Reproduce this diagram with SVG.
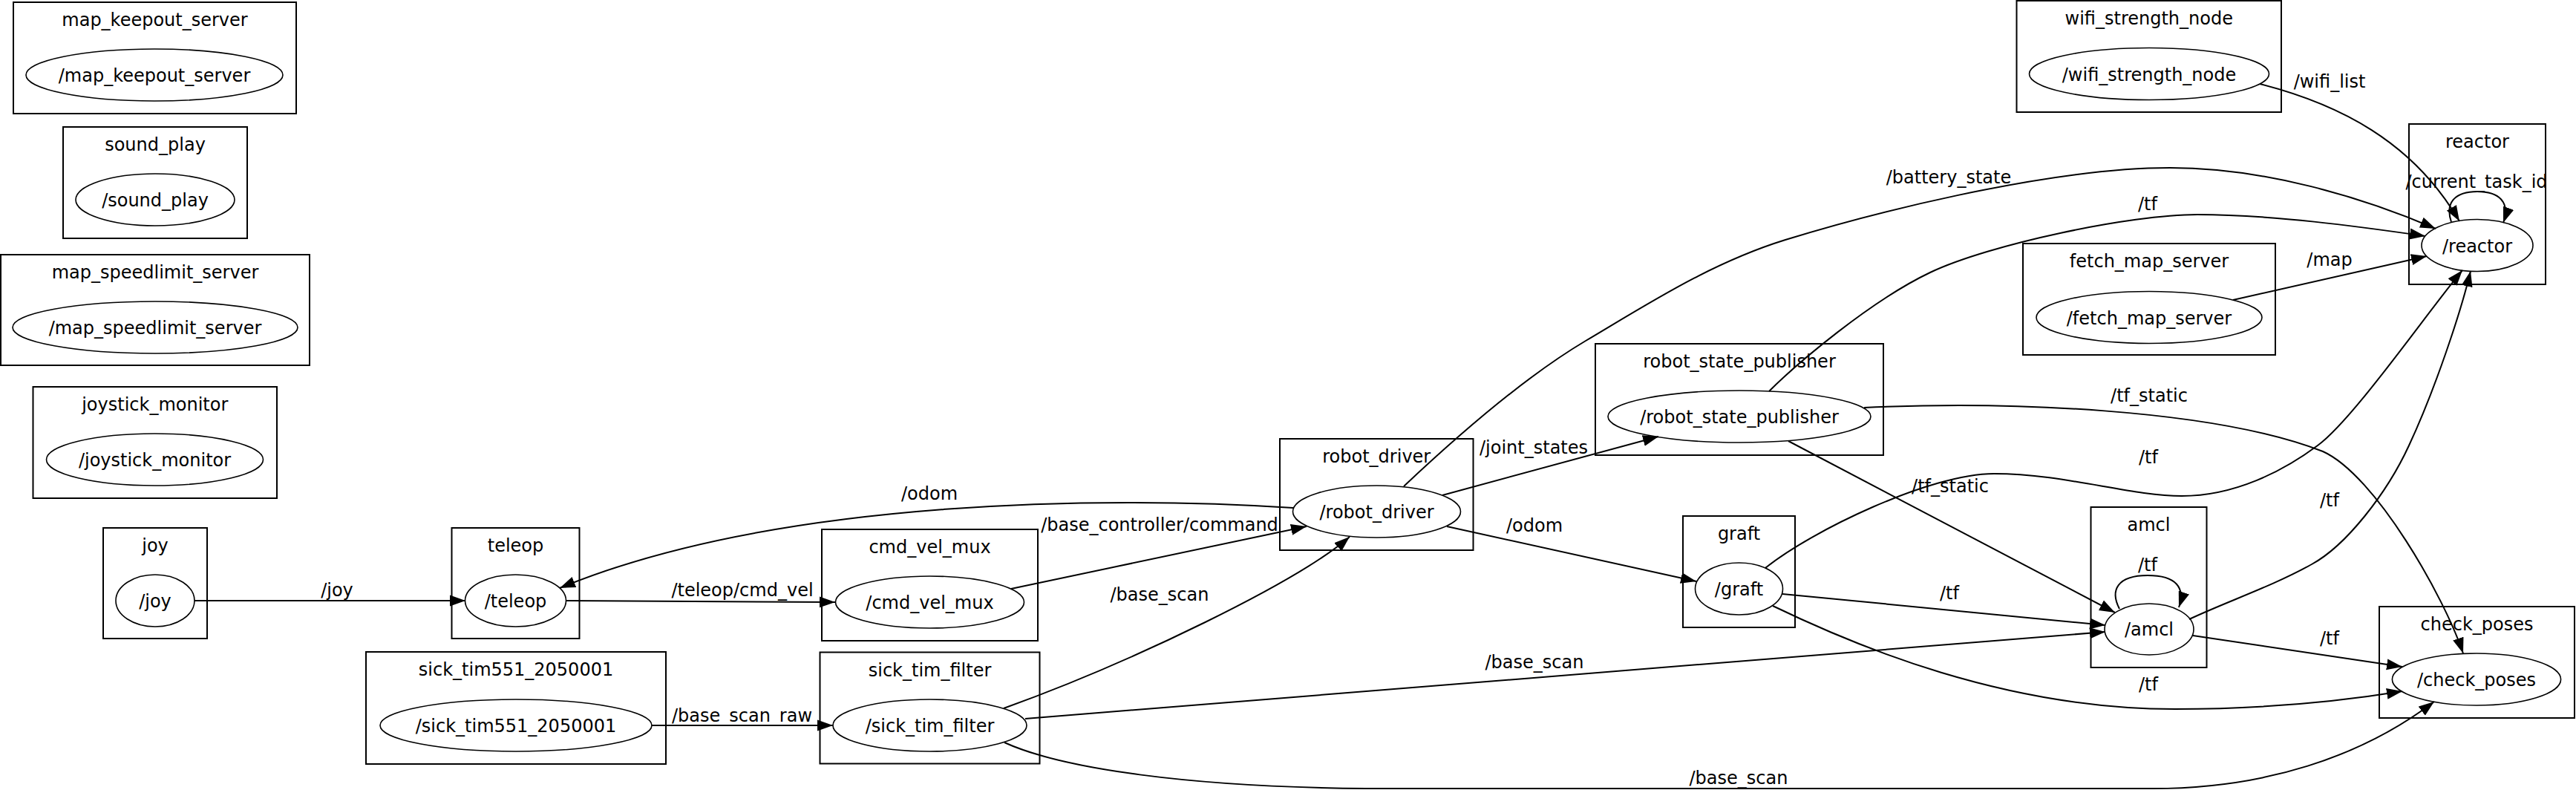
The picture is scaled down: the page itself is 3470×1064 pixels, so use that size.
<svg xmlns="http://www.w3.org/2000/svg" width="3470" height="1064" viewBox="0 0 3470 1064">
<style>
.box{fill:none;stroke:#000;stroke-width:2}
.node{fill:none;stroke:#000;stroke-width:1.6}
text{font-family:"DejaVu Sans",sans-serif;font-size:24px;fill:#000;text-anchor:middle}
.edge{fill:none;stroke:#000;stroke-width:2;marker-end:url(#ah)}
</style>
<defs>
<marker id="ah" markerWidth="22" markerHeight="16" refX="21" refY="8" orient="auto" markerUnits="userSpaceOnUse">
<path d="M0,0.5 L21,8 L0,15.5 z" fill="#000"/>
</marker>
</defs>
<rect width="3470" height="1064" fill="#fff"/>

<g id="n_map_keepout_server"><rect class="box" x="18" y="3" width="381" height="150"/><text x="208.5" y="35">map_keepout_server</text><ellipse class="node" cx="208" cy="101" rx="173" ry="35"/><text x="208" y="110">/map_keepout_server</text></g>
<g id="n_sound_play"><rect class="box" x="85" y="171" width="248" height="150"/><text x="209" y="203">sound_play</text><ellipse class="node" cx="209" cy="269" rx="107" ry="35"/><text x="209" y="278">/sound_play</text></g>
<g id="n_map_speedlimit_server"><rect class="box" x="1" y="343" width="416" height="149"/><text x="209" y="375">map_speedlimit_server</text><ellipse class="node" cx="209" cy="441" rx="192" ry="35"/><text x="209" y="450">/map_speedlimit_server</text></g>
<g id="n_joystick_monitor"><rect class="box" x="44.5" y="521" width="328.5" height="150"/><text x="208.75" y="553">joystick_monitor</text><ellipse class="node" cx="208.5" cy="619" rx="146" ry="35"/><text x="208.5" y="628">/joystick_monitor</text></g>
<g id="n_joy"><rect class="box" x="139" y="711" width="140" height="149"/><text x="209" y="743">joy</text><ellipse class="node" cx="209" cy="809" rx="53" ry="35"/><text x="209" y="818">/joy</text></g>
<g id="n_teleop"><rect class="box" x="608.5" y="711" width="172" height="149"/><text x="694.5" y="743">teleop</text><ellipse class="node" cx="694.5" cy="809" rx="68" ry="35"/><text x="694.5" y="818">/teleop</text></g>
<g id="n_sick_tim551_2050001"><rect class="box" x="493" y="878" width="404" height="151"/><text x="695" y="910">sick_tim551_2050001</text><ellipse class="node" cx="695" cy="977" rx="183" ry="35"/><text x="695" y="986">/sick_tim551_2050001</text></g>
<g id="n_cmd_vel_mux"><rect class="box" x="1107" y="713" width="291" height="150"/><text x="1252.5" y="745">cmd_vel_mux</text><ellipse class="node" cx="1252.5" cy="811" rx="127" ry="35"/><text x="1252.5" y="820">/cmd_vel_mux</text></g>
<g id="n_sick_tim_filter"><rect class="box" x="1104.5" y="878.5" width="296" height="150"/><text x="1252.5" y="910.5">sick_tim_filter</text><ellipse class="node" cx="1252.5" cy="977" rx="130.5" ry="35"/><text x="1252.5" y="986">/sick_tim_filter</text></g>
<g id="n_robot_driver"><rect class="box" x="1724" y="591" width="260.5" height="150"/><text x="1854.25" y="623">robot_driver</text><ellipse class="node" cx="1854.5" cy="689" rx="113" ry="35"/><text x="1854.5" y="698">/robot_driver</text></g>
<g id="n_robot_state_publisher"><rect class="box" x="2149" y="463" width="388" height="150"/><text x="2343" y="495">robot_state_publisher</text><ellipse class="node" cx="2343" cy="561" rx="177" ry="35"/><text x="2343" y="570">/robot_state_publisher</text></g>
<g id="n_graft"><rect class="box" x="2267" y="695" width="151" height="150"/><text x="2342.5" y="727">graft</text><ellipse class="node" cx="2342.5" cy="793" rx="59" ry="35"/><text x="2342.5" y="802">/graft</text></g>
<g id="n_amcl"><rect class="box" x="2816.5" y="683" width="156" height="216"/><text x="2894.5" y="715">amcl</text><ellipse class="node" cx="2895" cy="847.5" rx="60" ry="34.5"/><text x="2895" y="856">/amcl</text></g>
<g id="n_check_poses"><rect class="box" x="3205" y="817" width="263" height="150"/><text x="3336.5" y="849">check_poses</text><ellipse class="node" cx="3336" cy="915" rx="113.6" ry="35"/><text x="3336" y="924">/check_poses</text></g>
<g id="n_wifi_strength_node"><rect class="box" x="2716.5" y="1" width="356.5" height="150"/><text x="2894.75" y="33">wifi_strength_node</text><ellipse class="node" cx="2895" cy="99.5" rx="161.5" ry="35"/><text x="2895" y="108.5">/wifi_strength_node</text></g>
<g id="n_reactor"><rect class="box" x="3245" y="167" width="184" height="216"/><text x="3337" y="199">reactor</text><ellipse class="node" cx="3337" cy="330.5" rx="75" ry="35"/><text x="3337" y="339.5">/reactor</text></g>
<g id="n_fetch_map_server"><rect class="box" x="2725" y="328" width="340" height="150"/><text x="2895" y="360">fetch_map_server</text><ellipse class="node" cx="2895" cy="427.5" rx="152" ry="35"/><text x="2895" y="436.5">/fetch_map_server</text></g>

<g id="edges">
<path class="edge" d="M262,809 L627,809"/><text x="454" y="803">/joy</text>
<path class="edge" d="M1742,684 C1500,668 1050,670 754,792"/><text x="1252" y="673">/odom</text>
<path class="edge" d="M763,809 L1125,811"/><text x="1000" y="803">/teleop/cmd_vel</text>
<path class="edge" d="M1362,793 L1760,709"/><text x="1562" y="715">/base_controller/command</text>
<path class="edge" d="M878,977 L1122,977"/><text x="999.5" y="972">/base_scan_raw</text>
<path class="edge" d="M1352,954 C1522,893 1748,784 1818,723"/><text x="1562" y="809">/base_scan</text>
<path class="edge" d="M1381,968 L2836,851"/><text x="2067" y="900">/base_scan</text>
<path class="edge" d="M1353,1000 C1430,1035 1600,1060 1840,1062 L2900,1062 C3050,1062 3180,1020 3279,945"/><text x="2342" y="1056">/base_scan</text>
<path class="edge" d="M1943,667 L2234,588"/><text x="2066" y="611">/joint_states</text>
<path class="edge" d="M1949,709 L2285,783"/><text x="2067" y="716">/odom</text>
<path class="edge" d="M1891,655 C1960,590 2050,510 2136,459 C2222,408 2305,354 2405,323 C2505,292 2753,226 2923,226 C3050,226 3181,265 3281,308"/><text x="2625" y="247">/battery_state</text>
<path class="edge" d="M2383,527 C2420,490 2520,405 2600,367 C2680,329 2870,289 2960,289 C3060,289 3177,305 3267,318"/><text x="2893" y="283">/tf</text>
<path class="edge" d="M2409,594 L2849,825"/><text x="2627" y="663">/tf_static</text>
<path class="edge" d="M2511,549 C2700,540 2980,550 3129,608 C3200,640 3293,805 3318,880"/><text x="2895" y="541">/tf_static</text>
<path class="edge" d="M2378,765 C2440,715 2600,638 2686,638 C2780,638 2870,668 2939,668 C3010,668 3075,635 3122,600 C3170,565 3270,420 3317,364"/><text x="2894" y="624">/tf</text>
<path class="edge" d="M2401,800 L2836,842"/><text x="2626" y="807">/tf</text>
<path class="edge" d="M2388,816 C2500,870 2700,955 2930,955 C3050,955 3150,945 3236,931"/><text x="2894" y="930">/tf</text>
<path class="edge" d="M2949,834 C3000,810 3060,790 3114,760 C3160,735 3215,665 3245,600 C3280,525 3315,420 3328,365"/><text x="3138" y="682">/tf</text>
<path class="edge" d="M2855,820 C2842,795 2852,775 2893,775 C2932,775 2944,792 2935,818"/><text x="2893" y="769">/tf</text>
<path class="edge" d="M2954,856 L3236,898"/><text x="3138" y="868">/tf</text>
<path class="edge" d="M3008,404 L3269,345"/><text x="3138" y="358">/map</text>
<path class="edge" d="M3044,113 C3150,140 3250,190 3313,298"/><text x="3138" y="118">/wifi_list</text>
<path class="edge" d="M3302,299 C3293,272 3308,258 3337,258 C3366,258 3382,272 3372,300"/><text x="3336" y="253">/current_task_id</text>
</g>
</svg>
